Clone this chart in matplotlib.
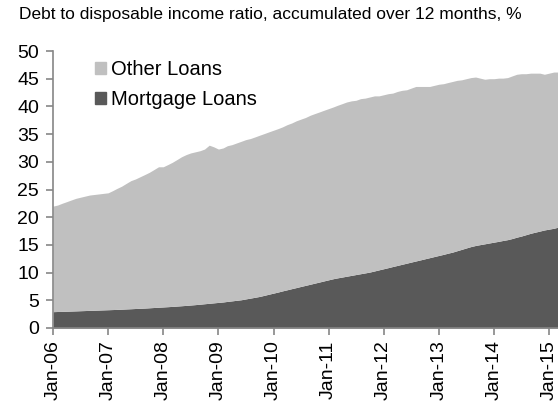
import matplotlib
matplotlib.use('Agg')
import matplotlib.pyplot as plt
import pandas as pd
from matplotlib.patches import Patch

# Debt ratio, monthly from Jan-06
total_debt = [
    22.0, 22.2, 22.5, 22.8, 23.1, 23.4, 23.6, 23.8, 24.0, 24.1, 24.2, 24.3,
    24.4, 24.8, 25.2, 25.6, 26.1, 26.6, 26.9, 27.3, 27.7, 28.1, 28.6, 29.1,
    29.1, 29.5, 29.9, 30.4, 30.9, 31.3, 31.6, 31.8, 32.0, 32.3, 33.0, 32.7,
    32.3, 32.5, 32.9, 33.1, 33.4, 33.7, 34.0, 34.2, 34.5, 34.8, 35.1, 35.4,
    35.7, 36.0, 36.3, 36.7, 37.0, 37.4, 37.7, 38.0, 38.4, 38.7, 39.0, 39.3,
    39.6, 39.9, 40.2, 40.5, 40.8, 41.0, 41.1, 41.4, 41.5, 41.7, 41.9, 41.9,
    42.1, 42.3, 42.4, 42.7, 42.9, 43.0, 43.3, 43.6, 43.6, 43.6, 43.6, 43.8,
    44.0, 44.1, 44.3, 44.5, 44.7, 44.8, 45.0, 45.2, 45.3, 45.1, 44.9, 45.0,
    45.0, 45.1, 45.1, 45.2, 45.5, 45.8, 45.9, 45.9, 46.0, 46.0, 46.0, 45.8,
    46.0, 46.2, 46.2,
]
mortgage = [
    2.95, 2.98, 3.0, 3.03, 3.06, 3.09, 3.12, 3.15, 3.18, 3.21, 3.24, 3.27,
    3.3, 3.33, 3.36, 3.4, 3.44, 3.48, 3.52, 3.56, 3.6, 3.65, 3.7, 3.75,
    3.8, 3.85, 3.9, 3.96, 4.02, 4.08, 4.15, 4.22, 4.3, 4.38, 4.46, 4.54,
    4.62, 4.7, 4.8, 4.9, 5.0, 5.1, 5.25, 5.4, 5.55, 5.7, 5.9, 6.1,
    6.3, 6.5, 6.7, 6.9, 7.1, 7.3, 7.5, 7.7, 7.9, 8.1, 8.3, 8.5,
    8.7, 8.9, 9.05, 9.2, 9.35, 9.5, 9.65, 9.8, 9.95, 10.1, 10.3, 10.5,
    10.7, 10.9, 11.1, 11.3, 11.5, 11.7, 11.9, 12.1, 12.3, 12.5, 12.7, 12.9,
    13.1, 13.3, 13.5, 13.7, 13.95, 14.2, 14.45, 14.7, 14.9, 15.05, 15.2, 15.35,
    15.5, 15.65, 15.8, 15.95, 16.15, 16.4, 16.6, 16.85, 17.1, 17.3, 17.5, 17.7,
    17.85, 18.0, 18.2,
]
tick_labels = ['Jan-06', 'Jan-07', 'Jan-08', 'Jan-09', 'Jan-10',
               'Jan-11', 'Jan-12', 'Jan-13', 'Jan-14', 'Jan-15']

plt.rcParams['font.family'] = ['Liberation Sans', 'DejaVu Sans']

dates = pd.date_range('2006-01-01', periods=len(total_debt), freq='MS')
tick_dates = pd.date_range('2006-01-01', periods=len(tick_labels), freq='12MS')

light = '#c0c0c0'
dark = '#595959'
axis_col = '#868686'

fig = plt.figure(figsize=(5.58, 4.08), dpi=100)
ax = fig.add_axes([53 / 558, 80 / 408, 505 / 558, 277 / 408])

ax.fill_between(dates, 0, mortgage, color=dark, lw=0)
ax.fill_between(dates, mortgage, total_debt, color=light, lw=0)

ax.set_xlim(dates[0], dates[-1])
ax.set_ylim(0, 50)
ax.set_yticks(range(0, 51, 5))
ax.set_xticks(tick_dates)
ax.set_xticklabels(tick_labels, rotation=90)

for s in ['top', 'right']:
    ax.spines[s].set_visible(False)
for s in ['left', 'bottom']:
    ax.spines[s].set_color(axis_col)
    ax.spines[s].set_linewidth(1.2)
ax.tick_params(axis='both', colors=axis_col, labelcolor='black', labelsize=14,
               length=5, width=1.2)
ax.tick_params(axis='y', pad=5)
ax.tick_params(axis='x', pad=4)

handles = [Patch(color=light, label='Other Loans'),
           Patch(color=dark, label='Mortgage Loans')]
ax.legend(handles=handles, loc='upper left', bbox_to_anchor=(95 / 558, 1 - 60 / 408),
          bbox_transform=fig.transFigure, frameon=False, fontsize=14.5,
          handlelength=0.55, handleheight=0.55, handletextpad=0.25,
          labelspacing=0.55, borderaxespad=0, borderpad=0)

fig.text(19 / 558, 1 - 15 / 408,
         'Debt to disposable income ratio, accumulated over 12 months, %',
         fontsize=12.5, va='center', ha='left')

fig.savefig('out.png', dpi=100)
